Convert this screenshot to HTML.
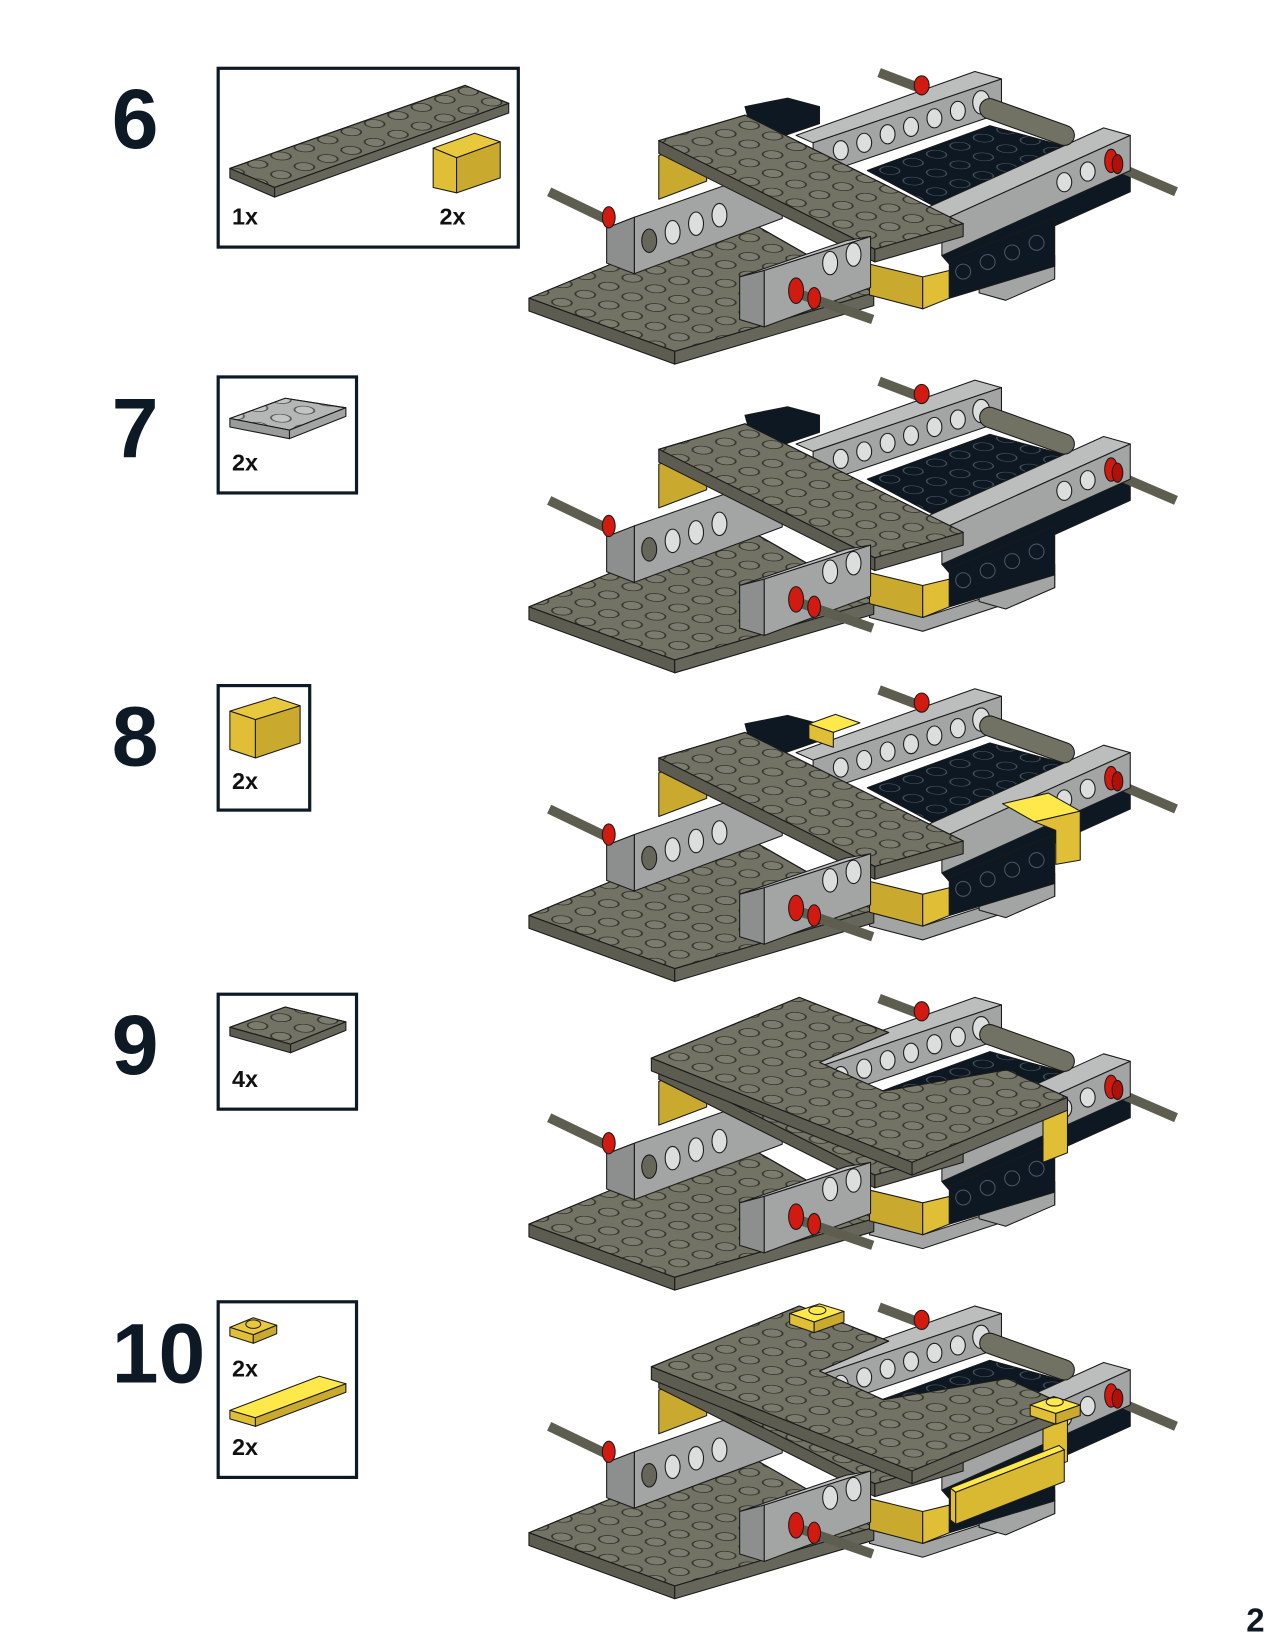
<!DOCTYPE html>
<html><head><meta charset="utf-8"><style>html,body{margin:0;padding:0;background:#fff}svg{display:block}</style></head>
<body>
<svg width="1275" height="1650" viewBox="0 0 1198 1550" xmlns="http://www.w3.org/2000/svg" font-family="Liberation Sans, sans-serif">
<defs>
<pattern id="st" patternUnits="userSpaceOnUse" width="20" height="20" patternTransform="matrix(1.1 -0.38 1.1 0.5 0 0)">
<circle cx="10" cy="10" r="6" fill="#7c7c6e" stroke="#34342c" stroke-width="1.1"/>
</pattern>
<pattern id="stl" patternUnits="userSpaceOnUse" width="20" height="20" patternTransform="matrix(1.1 -0.38 1.1 0.5 0 0)">
<circle cx="10" cy="10" r="6" fill="#c3c5c4" stroke="#555" stroke-width="1.1"/>
</pattern>
<pattern id="stk" patternUnits="userSpaceOnUse" width="20" height="20" patternTransform="matrix(1.1 -0.38 1.1 0.5 0 0)">
<circle cx="10" cy="10" r="6" fill="#0d1823" stroke="#4a5560" stroke-width="0.8"/>
</pattern>
<g id="model" stroke="#1a1a1a" stroke-width="1" stroke-linejoin="round">
 <polygon points="815,160 930,118 1010,140 890,200" fill="#0d1823"/>
 <polygon points="815,160 930,118 1010,140 890,200" fill="url(#stk)"/>
 <polygon points="885,240 1062,160 1062,180 991,212 892,248" fill="#0d1823"/>
 <line x1="1040" y1="152" x2="1105" y2="180" stroke="#5d5d50" stroke-width="9"/>
 <polygon points="860,200 1037,120 1062,127 885,207" fill="#bcbebd"/>
 <polygon points="885,207 1062,127 1062,160 885,240" fill="#a3a5a4"/>
 <ellipse cx="1000" cy="171" rx="7" ry="9" fill="#dcdedd"/>
 <ellipse cx="1022" cy="161" rx="7" ry="9" fill="#dcdedd"/>
 <ellipse cx="1044" cy="151" rx="6" ry="11" fill="#d21a10"/>
 <ellipse cx="1050" cy="154" rx="5" ry="9" fill="#b01008"/>
 <line x1="826" y1="68" x2="868" y2="84" stroke="#5d5d50" stroke-width="9"/>
 <polygon points="735,160 764,150 815,170 780,200 740,190" fill="#a3a5a4"/>
 <ellipse cx="768" cy="170" rx="7" ry="9" fill="#dcdedd" />
 <polygon points="748,127 916,67 941,74 764,134" fill="#bcbebd"/>
 <polygon points="764,134 941,74 941,106 764,166" fill="#a3a5a4"/>
 <g fill="#dcdedd">
 <ellipse cx="790" cy="141" rx="7" ry="9"/><ellipse cx="812" cy="134" rx="7" ry="9"/>
 <ellipse cx="834" cy="126" rx="7" ry="9"/><ellipse cx="856" cy="119" rx="7" ry="9"/>
 <ellipse cx="878" cy="111" rx="7" ry="9"/><ellipse cx="900" cy="104" rx="7" ry="9"/>
 <ellipse cx="922" cy="96" rx="8" ry="11"/></g>
 <ellipse cx="866" cy="80" rx="7" ry="9" fill="#d21a10"/>
 <line x1="930" y1="102" x2="1000" y2="127" stroke="#1a1a1a" stroke-width="20" stroke-linecap="round"/>
 <line x1="930" y1="102" x2="1000" y2="127" stroke="#727264" stroke-width="18" stroke-linecap="round"/>
 <polygon points="700,100 740,92 770,100 770,116 735,128 705,118" fill="#0d1823"/>
 <polygon points="619,146 664,128 664,170 619,187" fill="#c9aa2e"/>
 <polygon points="497,280 690,200 821,275 634,330" fill="#727265"/>
 <polygon points="497,280 690,200 821,275 634,330" fill="url(#st)"/>
 <polygon points="497,280 634,330 634,342 497,292" fill="#5c5c50"/>
 <polygon points="634,330 821,275 821,287 634,342" fill="#66665a"/>
 <line x1="516" y1="180" x2="570" y2="206" stroke="#5d5d50" stroke-width="9"/>
 <polygon points="570,214 709,166 735,157 596,204" fill="#bcbebd"/>
 <polygon points="596,204 735,155 735,205 596,257" fill="#a3a5a4"/>
 <polygon points="570,214 596,204 596,257 570,247" fill="#8d8f8e"/>
 <ellipse cx="610" cy="226" rx="7" ry="11" fill="#66665a"/>
 <ellipse cx="632" cy="218" rx="7" ry="11" fill="#dcdedd"/>
 <ellipse cx="654" cy="210" rx="7" ry="11" fill="#dcdedd"/>
 <ellipse cx="676" cy="202" rx="7" ry="11" fill="#dcdedd"/>
 <ellipse cx="572" cy="204" rx="6" ry="10" fill="#d21a10"/>
 <polygon points="619,132 700,108 905,210 822,234" fill="#727265"/>
 <polygon points="619,132 700,108 905,210 822,234" fill="url(#st)"/>
 <polygon points="619,132 822,234 822,246 619,144" fill="#5c5c50"/>
 <polygon points="822,234 905,210 905,222 822,246" fill="#66665a"/>
 <polygon points="817,248 867,260 867,290 817,277" fill="#c9aa2e"/>
 <polygon points="867,260 892,254 892,280 867,290" fill="#e0bf36"/>
 <polygon points="920,262 991,240 991,262 945,282 920,275" fill="#a3a5a4"/>
 <polygon points="892,244 991,204 991,250 892,280" fill="#0d1823"/>
 <g fill="none" stroke="#4a5560"><circle cx="905" cy="255" r="7"/><circle cx="928" cy="246" r="7"/><circle cx="951" cy="237" r="7"/><circle cx="974" cy="228" r="7"/></g>
 <polygon points="695,260 795,226 818,222 718,254" fill="#bcbebd"/>
 <polygon points="718,254 818,222 818,270 718,307" fill="#a3a5a4"/>
 <polygon points="695,260 718,254 718,307 695,300" fill="#8d8f8e"/>
 <ellipse cx="780" cy="247" rx="7" ry="11" fill="#dcdedd"/>
 <ellipse cx="802" cy="239" rx="7" ry="11" fill="#dcdedd"/>
 <line x1="745" y1="274" x2="820" y2="300" stroke="#5d5d50" stroke-width="9"/>
 <ellipse cx="748" cy="273" rx="7" ry="12" fill="#d21a10"/>
 <ellipse cx="765" cy="280" rx="6" ry="10" fill="#d21a10"/>
</g>
<g id="plate9" stroke="#1a1a1a" stroke-width="1" stroke-linejoin="round">
 <polygon points="980,176 1003,166 1003,213 980,222" fill="#e0bf36"/>
 <polygon points="612,124 751,67 835,100 770,128 830,155 946,135 1003,161 857,222" fill="#727265"/>
 <polygon points="612,124 751,67 835,100 770,128 830,155 946,135 1003,161 857,222" fill="url(#st)"/>
 <polygon points="612,124 857,222 857,234 612,136" fill="#5c5c50"/>
 <polygon points="857,222 1003,161 1003,173 857,234" fill="#66665a"/>
</g>
<polygon id="gband" points="817,277 867,290 991,250 991,262 867,303 817,290" fill="#a3a5a4" stroke="#1a1a1a"/>
</defs>

<g font-weight="bold" fill="#0d1a26" font-size="79">
<text x="105" y="139">6</text><text x="105" y="429">7</text><text x="105" y="719">8</text><text x="105" y="1009">9</text><text x="105" y="1299">10</text>
</g>
<text x="1171" y="1533" font-size="31" font-weight="bold" fill="#0d1a26">2</text>

<g fill="none" stroke="#0d1a26" stroke-width="3">
<rect x="205" y="64" width="282" height="168"/>
<rect x="205" y="354" width="130" height="109"/>
<rect x="205" y="644" width="86" height="117"/>
<rect x="205" y="934" width="130" height="108"/>
<rect x="205" y="1223" width="130" height="165"/>
</g>
<g stroke="#1a1a1a" stroke-width="1" stroke-linejoin="round">
<polygon points="216,158 437,80 478,97 258,176" fill="#727265"/>
<polygon points="216,158 437,80 478,97 258,176" fill="url(#st)"/>
<polygon points="216,158 258,176 258,185 216,167" fill="#5c5c50"/>
<polygon points="258,176 478,97 478,106 258,185" fill="#66665a"/>
<polygon points="407,139 446,125 470,133 429,148" fill="#e8c93e"/>
<polygon points="407,139 429,148 429,181 407,176" fill="#e0bf36"/>
<polygon points="429,148 470,133 470,167 429,181" fill="#c9aa2e"/>
<polygon points="216,393 268,374 325,383 272,404" fill="#b5b7b6"/>
<polygon points="216,393 268,374 325,383 272,404" fill="url(#stl)"/>
<polygon points="216,393 272,404 272,412 216,401" fill="#9a9c9b"/>
<polygon points="272,404 325,383 325,391 272,412" fill="#a3a5a4"/>
<polygon points="216,668 258,655 282,663 240,676" fill="#e8c93e"/>
<polygon points="216,668 240,676 240,712 216,704" fill="#e0bf36"/>
<polygon points="240,676 282,663 282,698 240,712" fill="#c9aa2e"/>
<polygon points="216,965 268,946 325,960 273,981" fill="#727265"/>
<polygon points="216,965 268,946 325,960 273,981" fill="url(#st)"/>
<polygon points="216,965 273,981 273,989 216,973" fill="#5c5c50"/>
<polygon points="273,981 325,960 325,968 273,989" fill="#66665a"/>
<polygon points="216,1247 238,1238 260,1245 238,1254" fill="#e8c93e"/>
<polygon points="216,1247 238,1254 238,1262 216,1255" fill="#e0bf36"/>
<polygon points="238,1254 260,1245 260,1253 238,1262" fill="#c9aa2e"/>
<ellipse cx="238" cy="1244" rx="7" ry="4" fill="#e8c93e"/>
<polygon points="216,1325 300,1293 325,1300 240,1332" fill="#ffe94a"/>
<polygon points="216,1325 240,1332 240,1340 216,1333" fill="#e0bf36"/>
<polygon points="240,1332 325,1300 325,1308 240,1340" fill="#c9aa2e"/>
</g>
<g font-size="22" font-weight="bold" fill="#111">
<text x="218" y="211">1x</text><text x="413" y="211">2x</text>
<text x="218" y="442">2x</text><text x="218" y="741">2x</text><text x="218" y="1021">4x</text>
<text x="218" y="1293">2x</text><text x="218" y="1367">2x</text>
</g>

<use href="#model"/>
<g transform="translate(0,290)"><use href="#gband"/><use href="#model"/></g>
<g transform="translate(0,580)"><use href="#gband"/><use href="#model"/>
 <g stroke="#1a1a1a" stroke-linejoin="round">
 <polygon points="760,100 785,91 808,99 783,108" fill="#ffe94a"/><polygon points="760,100 783,108 783,122 760,114" fill="#e0bf36"/>
 <polygon points="942,175 985,165 1015,182 972,192" fill="#ffe94a"/>
 <polygon points="972,192 1015,182 1015,228 992,232 992,200" fill="#e0bf36"/>
 </g></g>
<g transform="translate(0,870)"><use href="#gband"/><use href="#model"/><use href="#plate9"/></g>
<g transform="translate(0,1160)"><use href="#gband"/><use href="#model"/><use href="#plate9"/>
 <g stroke="#1a1a1a" stroke-linejoin="round">
 <polygon points="742,74 770,65 793,72 765,82" fill="#ffe94a"/>
 <polygon points="742,74 765,82 765,92 742,84" fill="#e0bf36"/><polygon points="765,82 793,72 793,82 765,92" fill="#c9aa2e"/>
 <ellipse cx="768" cy="71" rx="8" ry="4" fill="#ffe94a"/>
 <polygon points="968,160 990,152 1015,160 992,168" fill="#ffe94a"/>
 <polygon points="968,160 992,168 992,178 968,170" fill="#e0bf36"/><polygon points="992,168 1015,160 1015,170 992,178" fill="#c9aa2e"/>
 <ellipse cx="991" cy="157" rx="8" ry="4" fill="#ffe94a"/>
 <polygon points="893,238 995,198 1000,202 898,242" fill="#ffe94a"/>
 <polygon points="893,238 898,242 898,272 893,268" fill="#e0bf36"/>
 <polygon points="898,242 1000,202 1000,232 898,272" fill="#d9b832"/>
 </g></g>
</svg>
</body></html>
